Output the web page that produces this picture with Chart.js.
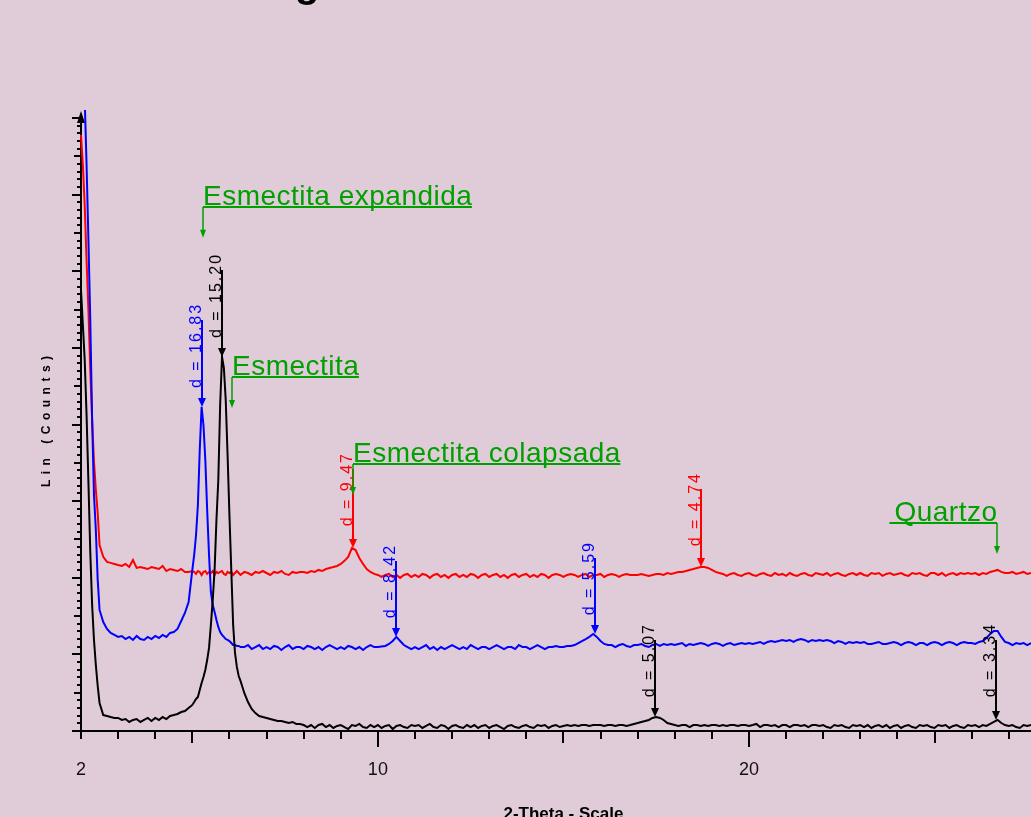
<!DOCTYPE html>
<html>
<head>
<meta charset="utf-8">
<script src="https://cdn.jsdelivr.net/npm/chart.js@4.4.1/dist/chart.umd.min.js"></script>
<style>
  html, body { margin: 0; padding: 0; background: #E0CCD8; }
  #xrd { display: block; }
</style>
</head>
<body>
<canvas id="xrd" width="1031" height="817"></canvas>
<script>
// 2-theta scan positions (deg), finer step around the low-angle smectite peaks
const twoTheta = [
  2.00, 2.05, 2.10, 2.15, 2.20, 2.25, 2.30, 2.35, 2.40, 2.45, 2.50,
  2.6, 2.7, 2.8, 2.9,
  3.0, 3.1, 3.2, 3.3, 3.4, 3.5, 3.6, 3.7, 3.8, 3.9,
  4.0, 4.1, 4.2, 4.3, 4.4, 4.5, 4.6, 4.7, 4.8, 4.9,
  5.00, 5.05, 5.10, 5.15, 5.20, 5.25, 5.30, 5.35, 5.40, 5.45, 5.50, 5.55, 5.60, 5.65,
  5.70, 5.75, 5.80, 5.85, 5.90, 5.95, 6.00, 6.05, 6.10, 6.15, 6.20, 6.25, 6.30,
  6.4, 6.5, 6.6, 6.7, 6.8, 6.9,
  7.0, 7.1, 7.2, 7.3, 7.4, 7.5, 7.6, 7.7, 7.8, 7.9,
  8.0, 8.1, 8.2, 8.3, 8.4, 8.5, 8.6, 8.7, 8.8, 8.9,
  9.0, 9.1, 9.2, 9.3, 9.4, 9.5, 9.6, 9.7, 9.8, 9.9,
  10.0, 10.1, 10.2, 10.3, 10.4, 10.5, 10.6, 10.7, 10.8, 10.9,
  11.0, 11.1, 11.2, 11.3, 11.4, 11.5, 11.6, 11.7, 11.8, 11.9,
  12.0, 12.1, 12.2, 12.3, 12.4, 12.5, 12.6, 12.7, 12.8, 12.9,
  13.0, 13.1, 13.2, 13.3, 13.4, 13.5, 13.6, 13.7, 13.8, 13.9,
  14.0, 14.1, 14.2, 14.3, 14.4, 14.5, 14.6, 14.7, 14.8, 14.9,
  15.0, 15.1, 15.2, 15.3, 15.4, 15.5, 15.6, 15.7, 15.8, 15.9,
  16.0, 16.1, 16.2, 16.3, 16.4, 16.5, 16.6, 16.7, 16.8, 16.9,
  17.0, 17.1, 17.2, 17.3, 17.4, 17.5, 17.6, 17.7, 17.8, 17.9,
  18.0, 18.1, 18.2, 18.3, 18.4, 18.5, 18.6, 18.7, 18.8, 18.9,
  19.0, 19.1, 19.2, 19.3, 19.4, 19.5, 19.6, 19.7, 19.8, 19.9,
  20.0, 20.1, 20.2, 20.3, 20.4, 20.5, 20.6, 20.7, 20.8, 20.9,
  21.0, 21.1, 21.2, 21.3, 21.4, 21.5, 21.6, 21.7, 21.8, 21.9,
  22.0, 22.1, 22.2, 22.3, 22.4, 22.5, 22.6, 22.7, 22.8, 22.9,
  23.0, 23.1, 23.2, 23.3, 23.4, 23.5, 23.6, 23.7, 23.8, 23.9,
  24.0, 24.1, 24.2, 24.3, 24.4, 24.5, 24.6, 24.7, 24.8, 24.9,
  25.0, 25.1, 25.2, 25.3, 25.4, 25.5, 25.6, 25.7, 25.8, 25.9,
  26.0, 26.1, 26.2, 26.3, 26.4, 26.5, 26.6, 26.7, 26.8, 26.9,
  27.0, 27.1, 27.2, 27.3, 27.4, 27.5, 27.6
];

// Lin (Counts) - bottom pattern (black)
const blackCounts = [
  2878, 2650, 2421, 2063, 1625, 1168, 822, 594, 431, 294, 183,
  104, 98, 91, 85,
  85, 72, 78, 59, 72, 78, 59, 72, 85, 65,
  85, 72, 91, 78, 98, 104, 111, 124, 130, 150,
  170, 189, 209, 222, 268, 313, 352, 398, 463, 542, 692, 855, 1051, 1377,
  1638, 2128, 2441, 2369, 2160, 1801, 1410, 1051, 692, 509, 418, 359, 326,
  248, 189, 144, 117, 98, 91,
  85, 78, 72, 65, 65, 59, 52, 59, 46, 46,
  39, 26, 39, 20, 39, 46, 26, 39, 20, 33,
  39, 26, 13, 39, 33, 46, 26, 20, 39, 26,
  39, 20, 33, 39, 13, 33, 39, 26, 20, 39,
  33, 39, 20, 33, 46, 26, 20, 39, 33, 13,
  33, 39, 26, 20, 39, 26, 39, 20, 33, 39,
  20, 33, 39, 26, 13, 33, 39, 26, 20, 33,
  39, 26, 20, 39, 33, 39, 20, 33, 39, 26,
  33, 39, 33, 39, 33, 39, 39, 33, 39, 39,
  39, 33, 39, 39, 33, 39, 39, 33, 39, 46,
  52, 59, 65, 72, 85, 91, 85, 72, 52, 46,
  39, 33, 39, 39, 26, 39, 39, 33, 39, 33,
  39, 39, 33, 39, 33, 39, 39, 33, 39, 39,
  33, 39, 46, 26, 39, 39, 33, 39, 26, 39,
  39, 26, 39, 39, 33, 39, 26, 39, 39, 33,
  39, 26, 20, 39, 33, 39, 26, 20, 39, 33,
  39, 26, 39, 20, 33, 39, 26, 39, 20, 33,
  39, 20, 33, 39, 26, 20, 39, 33, 39, 26,
  20, 39, 33, 39, 20, 33, 39, 26, 20, 39,
  33, 39, 26, 39, 33, 46, 59, 72, 52, 39,
  33, 39, 26, 20, 39, 33, 39
];

// middle pattern (blue)
const blueCounts = [
  4967, 4477, 4119, 3694, 3205, 2683, 2030, 1540, 1312, 986, 790,
  711, 666, 640, 627,
  614, 620, 600, 614, 594, 620, 600, 594, 614, 600,
  620, 607, 627, 614, 640, 646, 666, 718, 770, 842,
  1051, 1149, 1279, 1475, 1834, 2115, 1997, 1769, 1442, 1149, 907, 822, 777, 725,
  679, 646, 627, 614, 600, 594, 587, 574, 561, 561, 555, 555, 548,
  548, 561, 535, 548, 561, 535,
  548, 535, 555, 548, 529, 548, 561, 535, 548, 548,
  535, 555, 548, 535, 548, 529, 548, 561, 548, 535,
  548, 535, 555, 548, 535, 548, 529, 548, 561, 548,
  548, 552, 555, 568, 587, 614, 587, 561, 548, 535,
  548, 535, 548, 561, 535, 548, 529, 548, 535, 548,
  561, 548, 535, 548, 535, 561, 548, 535, 548, 548,
  535, 548, 561, 548, 535, 548, 548, 535, 561, 548,
  548, 535, 548, 561, 548, 535, 548, 548, 555, 548,
  548, 555, 555, 561, 574, 587, 600, 614, 633, 614,
  587, 568, 561, 561, 548, 561, 568, 555, 548, 561,
  561, 568, 555, 548, 561, 568, 555, 568, 561, 568,
  561, 568, 574, 555, 568, 561, 568, 574, 568, 555,
  568, 574, 568, 555, 568, 574, 561, 568, 574, 568,
  574, 568, 574, 581, 568, 581, 587, 581, 587, 594,
  587, 594, 581, 594, 600, 594, 581, 594, 587, 594,
  587, 594, 587, 574, 587, 581, 568, 581, 574, 581,
  574, 581, 568, 568, 574, 581, 568, 568, 574, 581,
  574, 561, 574, 581, 574, 561, 574, 574, 561, 574,
  581, 574, 561, 574, 581, 574, 561, 574, 581, 574,
  574, 568, 581, 587, 607, 633, 653, 653, 614, 581,
  574, 561, 574, 568, 574, 561, 574
];

// top pattern (red)
const redCounts = [
  3890, 3694, 3433, 3074, 2748, 2356, 2030, 1756, 1573, 1423, 1214,
  1136, 1103, 1097, 1090,
  1083, 1077, 1090, 1070, 1116, 1064, 1070, 1064, 1057, 1070,
  1064, 1057, 1077, 1044, 1057, 1051, 1044, 1057, 1038, 1038,
  1044, 1038, 1025, 1044, 1038, 1018, 1038, 1044, 1025, 1038, 1031, 1044, 1018, 1038,
  1031, 1038, 1044, 1025, 1018, 1038, 1031, 1038, 1018, 1031, 1044, 1031, 1018,
  1038, 1031, 1018, 1038, 1031, 1044,
  1031, 1018, 1038, 1031, 1044, 1025, 1018, 1038, 1031, 1038,
  1038, 1031, 1044, 1038, 1051, 1044, 1057, 1064, 1070, 1077,
  1090, 1110, 1136, 1194, 1181, 1129, 1090, 1057, 1038, 1025,
  1018, 1005, 1018, 1025, 1005, 1018, 999, 1018, 1025, 1005,
  1018, 1005, 1025, 1018, 999, 1018, 1025, 1005, 1018, 999,
  1018, 1025, 1005, 1018, 1005, 1025, 1018, 999, 1018, 1025,
  1005, 1018, 1025, 1005, 1018, 999, 1018, 1025, 1005, 1018,
  1025, 1005, 1018, 1005, 1025, 1018, 999, 1018, 1025, 1018,
  1005, 1018, 1025, 1018, 1005, 1018, 1025, 1005, 1018, 1018,
  1025, 1005, 1018, 1025, 1018, 1005, 1018, 1025, 1018, 1018,
  1018, 1025, 1018, 1012, 1018, 1025, 1025, 1018, 1031, 1025,
  1031, 1038, 1038, 1044, 1051, 1057, 1064, 1070, 1070, 1064,
  1051, 1038, 1031, 1025, 1012, 1025, 1031, 1018, 1012, 1025,
  1031, 1018, 1012, 1025, 1031, 1018, 1012, 1031, 1018, 1025,
  1012, 1031, 1018, 1012, 1025, 1031, 1018, 1012, 1031, 1025,
  1018, 1031, 1012, 1025, 1031, 1018, 1012, 1025, 1031, 1018,
  1031, 1018, 1012, 1031, 1025, 1031, 1012, 1025, 1031, 1018,
  1025, 1031, 1018, 1012, 1031, 1025, 1031, 1018, 1012, 1031,
  1031, 1018, 1031, 1012, 1025, 1031, 1018, 1031, 1025, 1031,
  1025, 1031, 1018, 1031, 1025, 1038, 1044, 1051, 1038, 1031,
  1031, 1038, 1025, 1031, 1038, 1025, 1031
];

const xTickLabels = [2, 10, 20];

// d-spacing markers: label, 2-theta, counts at the arrow tip, pattern (0 black, 1 blue, 2 red)
const peakLabels = ['d = 16.83', 'd = 15.20', 'd = 9.47', 'd = 8.42', 'd = 5.59', 'd = 4.74', 'd = 5.07', 'd = 3.34'];
const peakAngles = [5.25, 5.81, 9.33, 10.50, 15.84, 18.71, 17.48, 26.67];
const peakCounts = [2115, 2441, 1194, 614, 633, 1070, 91, 72];
const peakSeries = [1, 0, 2, 1, 1, 2, 0, 0];

// mineral phase call-outs
const phaseNames = ['Esmectita expandida', 'Esmectita', 'Esmectita colapsada', 'Quartzo'];
const phaseAngles = [5.29, 6.07, 9.33, 26.69];
const phaseCounts = [3218, 2108, 1540, 1155];

const seriesColors = ['#000000', '#0000FF', '#FF0000'];
const GREEN = '#00A000';
const FONT = '"Liberation Sans", Arial, sans-serif';
// stem length (px) of each d-spacing marker, same order as peakLabels
const stemLen = [87, 87, 79, 76, 76, 78, 77, 80];

function toPoints(counts) {
  return twoTheta.map((t, i) => ({ x: t, y: counts[i] }));
}

// draws text char by char with extra spacing, returns total width
function spacedText(ctx, text, x, y, gap, align) {
  const chars = [...text];
  const widths = chars.map(ch => ctx.measureText(ch).width);
  const total = widths.reduce((a, b) => a + b, 0) + gap * (chars.length - 1);
  let pos = align === 'right' ? x - total : align === 'center' ? x - total / 2 : x;
  ctx.textAlign = 'left';
  chars.forEach((ch, i) => {
    ctx.fillText(ch, pos, y);
    pos += widths[i] + gap;
  });
  return total;
}

function textWidth(ctx, text, gap) {
  return [...text].reduce((s, ch) => s + ctx.measureText(ch).width, 0) + gap * (text.length - 1);
}

function downArrow(ctx, x, y, w, h) {
  ctx.beginPath();
  ctx.moveTo(x, y);
  ctx.lineTo(x - w / 2, y - h);
  ctx.lineTo(x + w / 2, y - h);
  ctx.closePath();
  ctx.fill();
}

const evaAxes = {
  id: 'evaAxes',
  beforeDatasetsDraw(chart) {
    const { ctx, chartArea: area, scales: { x, y } } = chart;
    const left = area.left, bottom = area.bottom;
    ctx.save();
    ctx.strokeStyle = '#000';
    ctx.fillStyle = '#000';
    ctx.lineWidth = 2;

    // y ticks: minor every 50, medium every 250, long every 500
    for (let v = 0; v <= y.max; v += 50) {
      const py = Math.round(y.getPixelForValue(v));
      const len = v % 500 === 0 ? 9 : v % 250 === 0 ? 7 : 4;
      ctx.beginPath();
      ctx.moveTo(left - len, py);
      ctx.lineTo(left, py);
      ctx.stroke();
    }
    // x ticks: every degree, longer at 5 and 10
    for (let v = 2; v <= x.max; v += 1) {
      const px = Math.round(x.getPixelForValue(v));
      const len = v % 10 === 0 ? 16 : v % 5 === 0 ? 12 : 8;
      ctx.beginPath();
      ctx.moveTo(px, bottom);
      ctx.lineTo(px, bottom + len);
      ctx.stroke();
    }
    // axis lines
    const topPx = Math.round(y.getPixelForValue(y.max));
    ctx.beginPath();
    ctx.moveTo(left, bottom + 8);
    ctx.lineTo(left, topPx - 2);
    ctx.stroke();
    ctx.beginPath();
    ctx.moveTo(left - 9, bottom);
    ctx.lineTo(area.right, bottom);
    ctx.stroke();
    // arrow on the count axis
    ctx.beginPath();
    ctx.moveTo(left, topPx - 7);
    ctx.lineTo(left - 4, topPx + 5);
    ctx.lineTo(left + 4, topPx + 5);
    ctx.closePath();
    ctx.fill();

    // axis titles
    ctx.font = 'bold 12px ' + FONT;
    ctx.textBaseline = 'alphabetic';
    ctx.save();
    ctx.translate(50, (area.top + bottom) / 2 - 3);
    ctx.rotate(-Math.PI / 2);
    spacedText(ctx, 'Lin (Counts)', 0, 0, 5.5, 'center');
    ctx.restore();

    ctx.font = 'bold 17px ' + FONT;
    ctx.textAlign = 'center';
    ctx.fillText('2-Theta - Scale', x.getPixelForValue(15), 819);

    // bottom of the cut-off page title
    ctx.font = 'bold 40px ' + FONT;
    ctx.textAlign = 'left';
    ctx.fillText('g', 295, -3);
    ctx.restore();
  },
  afterDatasetsDraw(chart) {
    const { ctx, chartArea: area, scales: { x, y } } = chart;
    ctx.save();

    // d-spacing markers
    ctx.font = '16px ' + FONT;
    ctx.textBaseline = 'alphabetic';
    peakLabels.forEach((label, i) => {
      const px = Math.round(x.getPixelForValue(peakAngles[i]));
      const tip = y.getPixelForValue(peakCounts[i]);
      const top = tip - stemLen[i];
      const col = seriesColors[peakSeries[i]];
      ctx.strokeStyle = col;
      ctx.fillStyle = col;
      ctx.lineWidth = 2;
      ctx.beginPath();
      ctx.moveTo(px, top);
      ctx.lineTo(px, tip - 6);
      ctx.stroke();
      downArrow(ctx, px, tip, 8, 9);
      ctx.save();
      ctx.translate(px - 1, top - 15);
      ctx.rotate(-Math.PI / 2);
      spacedText(ctx, label, 0, 0, 2, 'right');
      ctx.restore();
    });

    // phase call-outs
    ctx.font = '28px ' + FONT;
    ctx.fillStyle = GREEN;
    ctx.strokeStyle = GREEN;
    ctx.lineWidth = 2;
    phaseNames.forEach((name, i) => {
      const ax = Math.round(x.getPixelForValue(phaseAngles[i]));
      const tip = y.getPixelForValue(phaseCounts[i]);
      const lineY = Math.round(tip - 31);
      const gap = 0.5;
      const w = textWidth(ctx, name, gap);
      const toLeft = ax + w > area.right;
      const tx = toLeft ? ax - w : ax;
      spacedText(ctx, name, tx, lineY - 2, gap, 'left');
      ctx.beginPath();
      ctx.moveTo(toLeft ? tx - 5 : ax, lineY);
      ctx.lineTo(toLeft ? ax : tx + w, lineY);
      ctx.stroke();
      ctx.lineWidth = 1.5;
      ctx.beginPath();
      ctx.moveTo(ax, lineY);
      ctx.lineTo(ax, tip - 6);
      ctx.stroke();
      ctx.lineWidth = 2;
      downArrow(ctx, ax, tip, 6, 8);
    });
    ctx.restore();
  }
};

const lineStyle = {
  borderWidth: 2,
  pointRadius: 0,
  tension: 0,
  fill: false,
  clip: { left: 2, top: 8, right: 0, bottom: 2 }
};

new Chart(document.getElementById('xrd'), {
  type: 'line',
  data: {
    datasets: [
      Object.assign({ label: 'black', data: toPoints(blackCounts), borderColor: seriesColors[0] }, lineStyle),
      Object.assign({ label: 'blue', data: toPoints(blueCounts), borderColor: seriesColors[1] }, lineStyle),
      Object.assign({ label: 'red', data: toPoints(redCounts), borderColor: seriesColors[2] }, lineStyle)
    ]
  },
  options: {
    responsive: false,
    animation: false,
    devicePixelRatio: 1,
    layout: { padding: { top: 118, left: 0, right: 0, bottom: 0 } },
    plugins: {
      legend: { display: false },
      tooltip: { enabled: false }
    },
    scales: {
      x: {
        type: 'linear',
        min: 2,
        max: 27.6,
        grid: { display: false, drawTicks: false },
        border: { display: false },
        afterBuildTicks: s => { s.ticks = xTickLabels.map(v => ({ value: v })); },
        afterFit: s => { s.height = 86; },
        ticks: {
          autoSkip: false,
          maxRotation: 0,
          padding: 28,
          color: '#111',
          font: { family: FONT, size: 18 }
        }
      },
      y: {
        min: 0,
        max: 4000,
        grid: { display: false },
        border: { display: false },
        ticks: { display: false },
        afterFit: s => { s.width = 81; }
      }
    }
  },
  plugins: [evaAxes]
});
</script>
</body>
</html>
